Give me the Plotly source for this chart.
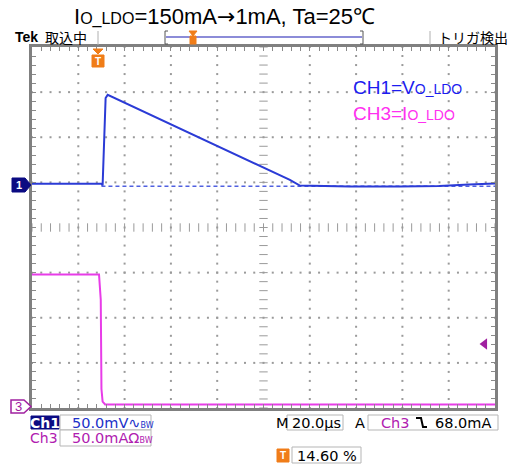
import numpy as np
import plotly.graph_objects as go

# time axis: 20 us/div, 10 divisions
T_DIV = 20.0
# CH1: output voltage ripple (mV), 50 mV/div
ch1_t = [0, 30.0, 30.5, 31.2, 31.8, 32.7, 51.2, 72.7, 94.2, 111.4, 115.7, 137.2, 158.7, 175.9, 188.8, 200]
ch1_mv = [2.0, 2.0, 0.0, 62.0, 97.0, 100.5, 78.5, 52.7, 27.0, 6.3, 0.0, -1.1, -1.1, -0.5, 1.1, 2.2]
# CH1 reference (dashed)
ref_t = [30.0, 200]
ref_mv = [-0.8, -0.8]
# CH3: load current (mA), 50 mA/div
ch3_t = [0, 28.95, 29.7, 30.0, 30.5, 31.6, 200]
ch3_ma = [145, 145, 117, 18, 4, 1, 1]

CH1_POS = 0.93   # ground marker position, div
CH3_POS = -3.94
TRIG_MA = 68.0

BLUE = "#2b3bd6"
MAG = "#e83ce8"
NAVY = "#0b0b82"
ORANGE = "#f07d18"
FRAME = "#808080"
RO_FONT = "DejaVu Sans"

# plot area in pixels
L, R, TOP, BOT = 32, 495, 47, 408
W, H = 513, 468


def px(x):
    return (x - L) / (R - L)


def py(y):
    return (BOT - y) / (BOT - TOP)


fig = go.Figure()

# graticule dots
gx, gy = [], []
for k in range(1, 10):
    if k == 5:
        continue
    for j in np.arange(-4, 4.01, 0.2):
        gx.append(k * T_DIV)
        gy.append(j)
for k in range(-3, 4):
    if k == 0:
        continue
    for j in np.arange(0, 10.01, 0.2):
        gx.append(j * T_DIV)
        gy.append(k)
fig.add_trace(go.Scatter(x=gx, y=gy, mode="markers", hoverinfo="skip",
                         marker=dict(size=2, color="#9a9a9a", symbol="square", line=dict(width=0))))

# center crosshair ticks
cx = [j * T_DIV for j in np.arange(0, 10.01, 0.2)]
fig.add_trace(go.Scatter(x=cx, y=[0] * len(cx), mode="markers", hoverinfo="skip",
                         marker=dict(size=6, symbol="line-ns", line=dict(width=1, color="#9a9a9a"))))
cy = list(np.arange(-4, 4.01, 0.2))
fig.add_trace(go.Scatter(x=[5 * T_DIV] * len(cy), y=cy, mode="markers", hoverinfo="skip",
                         marker=dict(size=6, symbol="line-ew", line=dict(width=1, color="#9a9a9a"))))

# waveforms
fig.add_trace(go.Scatter(x=ref_t, y=[v / 50 + CH1_POS for v in ref_mv], mode="lines",
                         line=dict(color="#5060e0", width=1.5, dash="4px,3px")))
fig.add_trace(go.Scatter(x=ch3_t, y=[v / 50 + CH3_POS for v in ch3_ma], mode="lines",
                         line=dict(color=MAG, width=2)))
fig.add_trace(go.Scatter(x=ch1_t, y=[v / 50 + CH1_POS for v in ch1_mv], mode="lines",
                         line=dict(color=BLUE, width=2)))

# trigger level arrow on right
fig.add_trace(go.Scatter(x=[195.5], y=[TRIG_MA / 50 + CH3_POS], mode="markers", hoverinfo="skip",
                         marker=dict(size=10, symbol="triangle-left", color="#a020a0")))

fig.update_xaxes(range=[0, 10 * T_DIV], showgrid=False, zeroline=False, showticklabels=False,
                 showline=True, linecolor=FRAME, linewidth=3, mirror="allticks",
                 ticks="inside", dtick=T_DIV / 5, ticklen=4, tickcolor="#8a8a8a", tickwidth=1)
fig.update_yaxes(range=[-4, 4], showgrid=False, zeroline=False, showticklabels=False,
                 showline=True, linecolor=FRAME, linewidth=3, mirror="allticks",
                 ticks="inside", dtick=0.2, ticklen=4, tickcolor="#8a8a8a", tickwidth=1)

shapes = []
ann = []


def text(x, y, s, size=13, color="black", anchor="left", bold=False, family="Liberation Sans, Arial"):
    if bold:
        s = "<b>" + s + "</b>"
    ann.append(dict(x=px(x), y=py(y), xref="paper", yref="paper", text=s, showarrow=False,
                    xanchor=anchor, yanchor="middle", font=dict(size=size, color=color, family=family)))


def box(x0, y0, x1, y1, fill="white", line="#b5b5b5"):
    shapes.append(dict(type="rect", xref="paper", yref="paper", x0=px(x0), x1=px(x1),
                       y0=py(y1), y1=py(y0), fillcolor=fill, line=dict(color=line, width=1)))


def vline(x, y0, y1, color="#b0b0b0", width=1):
    shapes.append(dict(type="line", xref="paper", yref="paper", x0=px(x), x1=px(x),
                       y0=py(y0), y1=py(y1), line=dict(color=color, width=width)))


def path(pts, fill=None, color="black", width=1, closed=True):
    d = "M " + " L ".join(f"{px(a)} {py(b)}" for a, b in pts) + (" Z" if closed else "")
    s = dict(type="path", xref="paper", yref="paper", path=d, line=dict(color=color, width=width))
    if fill:
        s["fillcolor"] = fill
    shapes.append(s)


# title
text(72, 17, "I<span style='font-size:16px'>O_LDO</span>=150mA"
     "<span style='font-family:DejaVu Sans'>→</span>1mA, Ta=25℃", size=22)

# top status bar
text(13, 37, "Tek", size=14, bold=True)
text(43, 37, "取込中", size=14, family="Noto Sans CJK JP")
vline(98, 31, 45)
vline(430, 31, 45)
text(436, 37, "トリガ検出", size=14, family="Noto Sans CJK JP")
shapes.append(dict(type="line", xref="paper", yref="paper", x0=px(166), x1=px(362),
                   y0=py(37), y1=py(37), line=dict(color="#8c8cd8", width=2)))
for xb, d in [(165, 1), (363, -1)]:
    path([(xb + 3 * d, 31), (xb, 31), (xb, 44), (xb + 3 * d, 44)], color="#555555", closed=False)
box(190, 36, 196, 44, fill=ORANGE, line=ORANGE)
path([(189, 31), (197, 31), (193, 36)], fill=ORANGE, color=ORANGE)

# trigger position marker in graticule
path([(93, 49), (103, 49), (98, 54)], fill=ORANGE, color=ORANGE)
box(92, 55, 104, 67, fill=ORANGE, line=ORANGE)
text(98, 61.5, "T", size=10, color="white", anchor="center", bold=True)

# channel legend
text(351, 87, "CH1=V<span style='font-size:14px'>O_LDO</span>", size=19, color="#1c1cf0")
text(351, 113, "CH3=I<span style='font-size:14px'>O_LDO</span>", size=19, color="#ff30f0")

# channel ground markers
path([(12, 178), (25, 178), (31, 185), (25, 192), (12, 192)], fill=NAVY, color=NAVY)
text(18.5, 185, "1", size=11, color="white", anchor="center", bold=True)
path([(11, 400), (24, 400), (31, 406.5), (24, 413), (11, 413)], fill="white", color="#a020a0", width=1.5)
text(18, 406.5, "3", size=13, color="#a020a0", anchor="center")

# bottom readouts
box(31, 416, 59, 429, fill=NAVY, line=NAVY)
text(45, 422.5, "Ch1", size=14, color="white", anchor="center", bold=True, family=RO_FONT)
box(60, 415, 151, 430)
text(70, 422.5, "50.0mV∿<span style='font-size:8px'>BW</span>", size=14.5, color="#2030c8", family=RO_FONT)
text(44, 438, "Ch3", size=14, color="#b020b0", anchor="center", family=RO_FONT)
box(60, 430, 151, 446)
text(70, 438, "50.0mAΩ<span style='font-size:8px'>BW</span>", size=14.5, color="#b020b0", family=RO_FONT)

text(274, 422.5, "M", size=14.5, family=RO_FONT)
box(287, 415, 343, 430)
text(290, 422.5, "20.0µs", size=14.5, family=RO_FONT)
text(353, 422.5, "A", size=14.5, family=RO_FONT)
box(368, 415, 498, 430)
text(379, 422.5, "Ch3", size=14.5, color="#b020b0", family=RO_FONT)
path([(416, 418), (421, 418), (423, 427), (427, 427)], color="black", width=2, closed=False)
text(433, 422.5, "68.0mA", size=14.5, family=RO_FONT)

box(277, 449, 289, 462, fill=ORANGE, line=ORANGE)
text(283, 455.5, "T", size=10, color="white", anchor="center", bold=True)
box(292, 447, 361, 463)
text(295, 455.5, "14.60 %", size=14.5, family=RO_FONT)

fig.update_layout(width=W, height=H, margin=dict(l=L, r=W - R, t=TOP, b=H - BOT),
                  paper_bgcolor="white", plot_bgcolor="white", showlegend=False,
                  shapes=shapes, annotations=ann)

fig.write_html("out.html", config={"displayModeBar": False},
               post_script="document.body.style.margin='0px';")
